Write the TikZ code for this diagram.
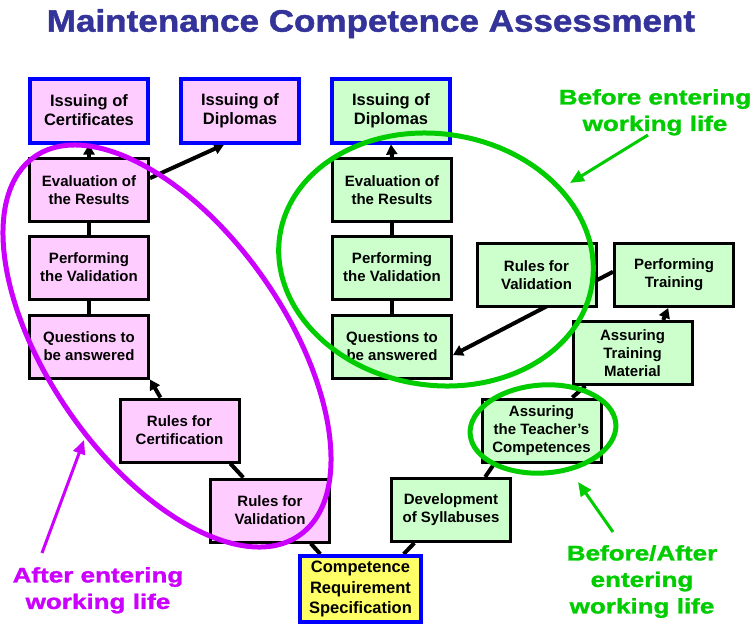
\documentclass[tikz,border=0pt]{standalone}
\usepackage{fontspec}
\setmainfont{Liberation Sans}
\newfontfamily\titlefont{Liberation Sans}[FakeStretch=1.13, BoldFeatures={FakeBold=1.5}]
\newfontfamily\notefont{Liberation Sans}[FakeStretch=1.24, BoldFeatures={FakeBold=1.5}]
\usetikzlibrary{arrows.meta}

\definecolor{boxpink}{HTML}{FFCCFF}
\definecolor{boxgreen}{HTML}{CCFFCC}
\definecolor{boxyellow}{HTML}{FFFF66}
\definecolor{edgeblue}{HTML}{0000FF}
\definecolor{titleblue}{HTML}{333399}
\definecolor{ringmagenta}{HTML}{CC00FF}
\definecolor{ringgreen}{HTML}{00CC00}

\pgfdeclarelayer{links}
\pgfsetlayers{links,main}

\tikzset{
  box/.style={draw=black, line width=3pt, minimum width=119pt, minimum height=63pt,
    inner sep=1pt, align=center, font=\fontsize{15}{17.8}\selectfont\bfseries},
  pinkbox/.style={box, fill=boxpink},
  greenbox/.style={box, fill=boxgreen},
  issuebox/.style={draw=edgeblue, line width=4pt, minimum width=118pt, minimum height=64pt,
    font=\fontsize{16.5}{19}\selectfont\bfseries},
  link/.style={line width=4pt},
  flow/.style={link, -{Triangle[length=10pt,width=11pt]}},
  ring/.style={line width=5pt},
  callout/.style={line width=3pt, -{Triangle[length=14pt,width=12pt]}},
  caption/.style={inner sep=0pt, anchor=north, align=center,
    font=\notefont\bfseries\fontsize{21}{26.5}\selectfont}
}

\begin{document}
\begin{tikzpicture}[x=1pt, y=-1pt]
\useasboundingbox (0,0) rectangle (753,624);

% heading
\node[inner sep=0pt, anchor=north, text=titleblue,
  font=\titlefont\bfseries\fontsize{31}{36}\selectfont] (title) at (371,9)
  {Maintenance Competence Assessment};

% left branch: after entering working life
\node[pinkbox, issuebox] (ic)  at (89,110.5)  {Issuing of\\Certificates};
\node[pinkbox, issuebox] (idp) at (240,110.5) {Issuing of\\Diplomas};
\node[pinkbox] (ep)  at (89,190)    {Evaluation of\\the Results};
\node[pinkbox] (pp)  at (89,267.5)  {Performing\\the Validation};
\node[pinkbox] (qp)  at (89,346.5)  {Questions to\\be answered};
\node[pinkbox] (rc)  at (179.5,430.5) {Rules for\\Certification};
\node[pinkbox] (rvp) at (270,510.5) {Rules for\\Validation};

% root
\node[box, issuebox, fill=boxyellow, minimum width=121pt, minimum height=66pt,
  font=\fontsize{16.5}{20.5}\selectfont\bfseries] (crs) at (360.5,589)
  {Competence\\Requirement\\Specification};

% right branch: before entering working life
\node[greenbox] (dev) at (451,510)   {Development\\of Syllabuses};
\node[greenbox] (atc) at (541.5,430.5) {Assuring\\the Teacher's\\Competences};
\node[greenbox] (atm) at (632.5,353) {Assuring\\Training\\Material};
\node[greenbox] (pt)  at (674,275)   {Performing\\Training};
\node[greenbox] (rvg) at (536.5,275) {Rules for\\Validation};
\node[greenbox] (qg)  at (392,346.5) {Questions to\\be answered};
\node[greenbox] (pg)  at (392,267.5) {Performing\\the Validation};
\node[greenbox] (eg)  at (392,190)   {Evaluation of\\the Results};
\node[greenbox, issuebox] (idg) at (391,110.5) {Issuing of\\Diplomas};

% connectors, kept underneath the boxes
\begin{pgfonlayer}{links}
  \draw[flow] (ep.north) -- (ic.south);
  \draw[flow] (ep.11) -- (idp.245);
  \draw[link] (pp.north) -- (ep.south);
  \draw[link] (qp.north) -- (pp.south);
  \draw[flow] (rc.120) -- (qp.south east);
  \draw[link] (rvp.129) -- (rc.-33);
  \draw[link] (crs.139) -- (rvp.-39);
  \draw[link] (crs.39.5) -- (dev.-138);
  \draw[link] (dev.44) -- (atc.215.6);
  \draw[link] (atc.47.8) -- (atm.215.9);
  \draw[flow] (atm.47) -- (pt.260);
  \draw[flow] (pt.177) -- (qg.-8.4);
  \draw[flow] (eg.north) -- (idg.south);
  \draw[link] (pg.north) -- (eg.south);
  \draw[link] (qg.north) -- (pg.south);
\end{pgfonlayer}

% groupings
\draw[ring, draw=ringmagenta, rotate around={-55:(167,346)}]
  (167,346) ellipse [x radius=231, y radius=118];
\draw[ring, draw=ringgreen, rotate around={-9:(436,259.5)}]
  (436,259.5) ellipse [x radius=158, y radius=125.6];
\draw[ring, draw=ringgreen, rotate around={4:(543,429)}]
  (543,429) ellipse [x radius=73, y radius=44];

% captions and their pointers
\node[caption, text=ringgreen] (before) at (655,89) {Before entering\\working life};
\node[caption, text=ringmagenta] (after) at (98,567) {After entering\\working life};
\node[caption, text=ringgreen] (both) at (642,545) {Before/After\\entering\\working life};

\coordinate (beforetip) at (570,183);
\coordinate (aftertip) at (84,440);
\coordinate (bothtip) at (578,482);
\draw[callout, draw=ringgreen] (648,135) -- (beforetip);
\draw[callout, draw=ringmagenta] (42,553) -- (aftertip);
\draw[callout, draw=ringgreen] (613,532) -- (bothtip);
\end{tikzpicture}
\end{document}
